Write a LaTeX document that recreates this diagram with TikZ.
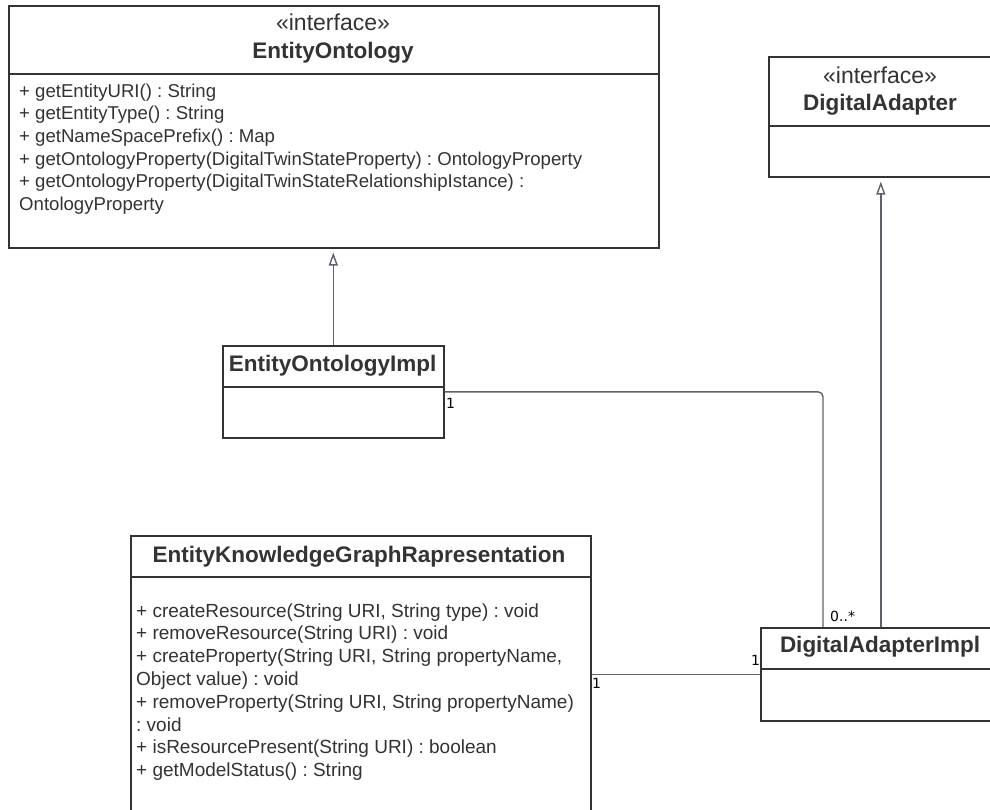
\documentclass[tikz,border=0pt]{standalone}
\usepackage{fontspec}
\setmainfont{Liberation Sans}
\newfontfamily\multfont{DejaVu Sans}
\usetikzlibrary{arrows.meta}
\definecolor{ink}{HTML}{333333}
\definecolor{wire}{HTML}{5E636B}
\frenchspacing

\begin{document}
\begin{tikzpicture}[x=1pt,y=-1pt,
  classbox/.style={draw=ink, line width=1.6pt, fill=white, inner sep=0pt, anchor=north west},
  divider/.style={draw=ink, line width=1.6pt},
  title/.style={font=\fontsize{22.5}{27}\selectfont\bfseries, text=ink, inner sep=0pt, anchor=base},
  stereo/.style={font=\fontsize{23}{27}\selectfont, text=ink, inner sep=0pt, anchor=base},
  member/.style={font=\fontsize{19}{22.8}\selectfont, text=ink, inner sep=0pt, anchor=north west, align=left},
  wireline/.style={draw=wire, line width=1.4pt},
  realize/.style={wireline, -{Triangle[open, length=13pt, width=9pt, line width=1.4pt]}, shorten >=4pt},
  mult/.style={font=\multfont\fontsize{14}{16}\selectfont, text=black, inner sep=0pt, anchor=base west},
]
\useasboundingbox (0,0) rectangle (990,809);
\clip (0,0) rectangle (990,809);
\fill[white] (0,0) rectangle (990,809);

% interface EntityOntology
\node[classbox, minimum width=650pt, minimum height=242pt] (eo) at (8,5) {};
\draw[divider] (eo.west |- 0,74) -- (eo.east |- 0,74);
\node[stereo] (eost) at (333,30) {«interface»};
\node[title] (eoti) at (333,58) {EntityOntology};
\node[member, font=\fontsize{18.6}{22.7}\selectfont] (eoop) at (19,81) {\strut + getEntityURI() : String\\
+ getEntityType() : String\\
+ getNameSpacePrefix() : Map\\
+ getOntologyProperty(DigitalTwinStateProperty) : OntologyProperty\\
+ getOntologyProperty(DigitalTwinStateRelationshipIstance) :\\
OntologyProperty};

% interface DigitalAdapter
\node[classbox, minimum width=225pt, minimum height=120pt] (da) at (768,56) {};
\draw[divider] (da.west |- 0,126) -- (da.east |- 0,126);
\node[stereo] (dast) at (880,83) {«interface»};
\node[title] (dati) at (880,110) {DigitalAdapter};

% class EntityOntologyImpl
\node[classbox, minimum width=221pt, minimum height=92pt] (eoi) at (222,345) {};
\draw[divider] (eoi.west |- 0,387) -- (eoi.east |- 0,387);
\node[title] (eoiti) at (332.5,371) {EntityOntologyImpl};

% class EntityKnowledgeGraphRapresentation
\node[classbox, minimum width=460pt, minimum height=300pt] (ekg) at (130,535) {};
\draw[divider] (ekg.west |- 0,577) -- (ekg.east |- 0,577);
\node[title] (ekgti) at (359,562) {EntityKnowledgeGraphRapresentation};
\node[member] (ekgop) at (136,601) {\strut + createResource(String URI, String type) : void\\
+ removeResource(String URI) : void\\
+ createProperty(String URI, String propertyName,\\
Object value) : void\\
+ removeProperty(String URI, String propertyName)\\
: void\\
+ isResourcePresent(String URI) : boolean\\
+ getModelStatus() : String};

% class DigitalAdapterImpl
\node[classbox, minimum width=240pt, minimum height=93pt] (dai) at (760,627) {};
\draw[divider] (dai.west |- 0,669) -- (dai.east |- 0,669);
\node[title] (daiti) at (880,652) {DigitalAdapterImpl};

% realizations
\draw[realize] (eoi.north) -- (eoi.north |- eo.south);
\draw[realize] (dai.north) -- (dai.north |- da.south);

% associations
\draw[wireline, rounded corners=5pt] (eoi.east) -| ([xshift=63pt]dai.north west);
\draw[wireline] (dai.west) -- (dai.west -| ekg.east);

% multiplicities
\node[mult] (m1) at (446,408) {1};
\node[mult] (m2) at (830,621) {0..*};
\node[mult] (m3) at (592,688) {1};
\node[mult] (m4) at (751,665) {1};
\end{tikzpicture}
\end{document}
